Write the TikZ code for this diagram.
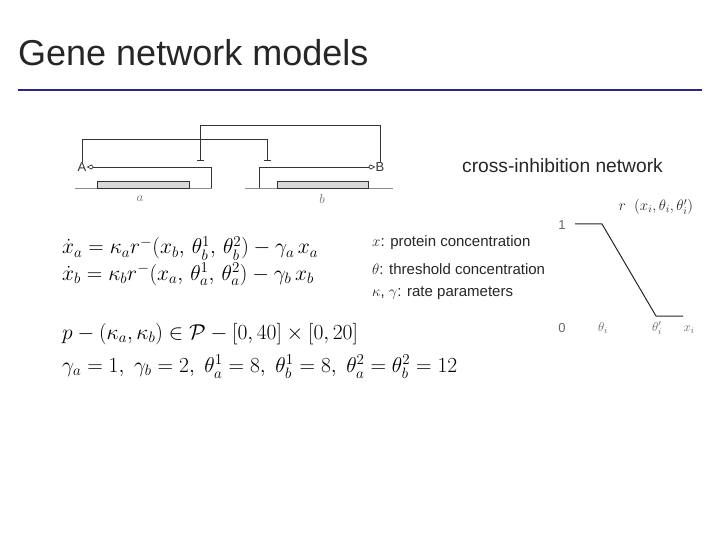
\RequirePackage{fix-cm}
\documentclass[tikz,border=0pt]{standalone}
\usepackage{amsmath,amssymb}
\usepackage{fontspec}
\setmainfont{Liberation Sans}
\usetikzlibrary{arrows.meta}
\definecolor{navy}{RGB}{40,40,130}
\begin{document}
\begin{tikzpicture}[x=1pt,y=-1pt,
  net/.style={line width=0.9pt,black!80},
  gene/.style={draw=black!80,fill=black!15,line width=0.8pt},
  base/.style={black!45,line width=0.7pt},
  inh/.style={net,-{Bar[width=7pt]}},
  act/.style={black!80,line width=0.7pt,-{Kite[open,length=7pt,width=5pt]}},
  eq/.style={anchor=west,inner sep=0pt,font=\fontsize{21.5}{24}\selectfont},
  tight/.style={text height=12pt,text depth=4pt},
  leg/.style={anchor=west,inner sep=0pt,font=\fontsize{15}{17}\selectfont,text=black!85},
  small/.style={inner sep=0pt,font=\fontsize{13}{15}\selectfont,text=black!60}]
\useasboundingbox (0,0) rectangle (720,540);
\node[anchor=base west,inner sep=0pt,font=\fontsize{36}{40}\selectfont,text=black!85] (title) at (18,66) {Gene network models};
\draw[navy,line width=2pt] (18,90) -- (702,90);
% genes
\draw[base] (75,188) -- (212,188);
\draw[base] (245,188) -- (393,188);
\draw[gene] (97,181) rectangle (189,188);
\draw[gene] (277,181) rectangle (368,188);
\node[small] (la) at (140,199) {$a$};
\node[small] (lb) at (322,199) {$b$};
\node[inner sep=0pt,font=\fontsize{13}{15}\selectfont,text=black!80] (A) at (82,167) {A};
\node[inner sep=0pt,font=\fontsize{13}{15}\selectfont,text=black!80] (B) at (380,167) {B};
\coordinate (pa) at (211,188);
\coordinate (pb) at (259,188);
\draw[act] (pa) -- (211,167) -- (A.east);
\draw[act] (pb) -- (259,167) -- (B.west);
\draw[inh] (A.north) -- (A.north |- 0,139) -- (267,139) -- (267,161);
\draw[inh] (B.north) -- (B.north |- 0,125) -- (200,125) -- (200,161);
\node[leg,font=\fontsize{19.2}{21}\selectfont] (cin) at (462,166) {cross-inhibition network};
% equations
\node[eq,tight] (e1) at (62,250) {$\dot x_a = \kappa_a r^{-}(x_b,\,\theta_b^{1},\,\theta_b^{2}) - \gamma_a\, x_a$};
\node[eq,tight] (e2) at (62,276) {$\dot x_b = \kappa_b r^{-}(x_a,\,\theta_a^{1},\,\theta_a^{2}) - \gamma_b\, x_b$};
\node[eq] (e3) at (62,334) {$p - (\kappa_a,\kappa_b) \in \mathcal{P} - [0,40]\times[0,20]$};
\node[eq] (e4) at (62,367) {$\gamma_a=1,\ \gamma_b=2,\ \theta_a^1=8,\ \theta_b^1=8,\ \theta_a^2=\theta_b^2=12$};
\node[leg] (l1) at (372,243) {$x$: protein concentration};
\node[leg] (l2) at (372,269) {$\theta$: threshold concentration};
\node[leg] (l3) at (372,293) {$\kappa$, $\gamma$: rate parameters};
% ramp graph
\node[small] (one) at (562,225) {1};
\node[small] (zero) at (562,328) {0};
\node[small] (t1) at (603,328) {$\theta_i$};
\node[small] (t2) at (657,328) {$\theta_i'$};
\node[small] (xi) at (689,330) {$x_i$};
\node[small,font=\fontsize{15}{17}\selectfont,text=black!85] (rl) at (656,207) {$r\ \ (x_i,\theta_i,\theta_i')$};
\coordinate (r0) at (575,224);
\coordinate (r1) at (602,224);
\coordinate (r2) at (656,316);
\coordinate (r3) at (683,316);
\draw[line width=1pt,black!85] (r0) -- (r1) -- (r2) -- (r3);
\end{tikzpicture}
\end{document}
